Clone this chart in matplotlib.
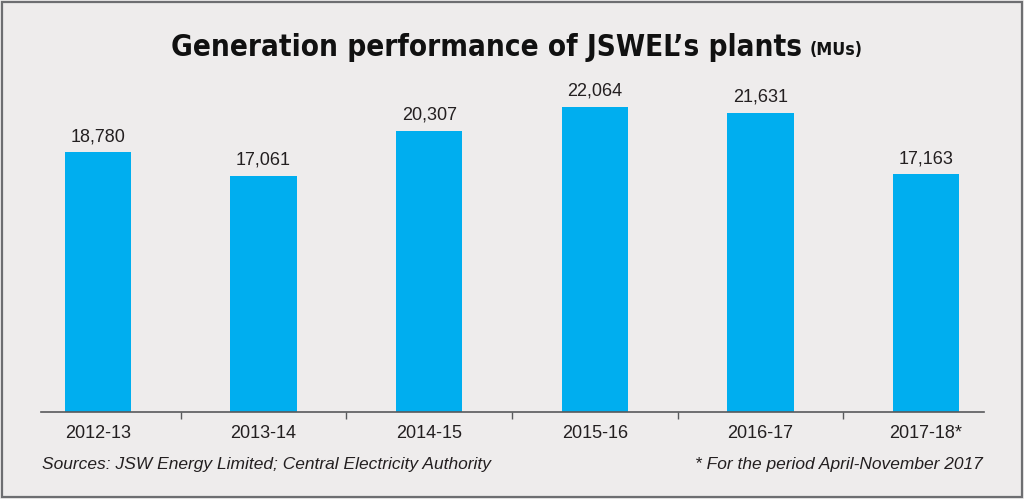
import matplotlib
matplotlib.use("Agg")
import matplotlib.pyplot as plt
from matplotlib.patches import FancyBboxPatch
from matplotlib import font_manager as fm

categories = ["2012-13", "2013-14", "2014-15", "2015-16", "2016-17", "2017-18*"]
values = [18780, 17061, 20307, 22064, 21631, 17163]
value_labels = ["18,780", "17,061", "20,307", "22,064", "21,631", "17,163"]

title = "Generation performance of JSWEL\u2019s plants"
title_unit = "(MUs)"
source = "Sources: JSW Energy Limited; Central Electricity Authority"
footnote = "* For the period April-November 2017"

bg = "#eeecec"
bar_color = "#00aeef"
text_color = "#231f20"

plt.rcParams['font.family'] = ['Liberation Sans', 'DejaVu Sans']

title_kw = dict(family=['Liberation Sans', 'DejaVu Sans'], fontweight="bold")
try:
    fp = fm.FontProperties(family='DejaVu Sans', weight='bold', stretch='condensed')
    path = fm.findfont(fp, fallback_to_default=False)
    if 'Condensed' in path:
        title_kw = dict(family=['DejaVu Sans'], fontweight="bold", fontstretch="condensed")
except Exception:
    pass

fig = plt.figure(figsize=(10.24, 4.99), dpi=100)
fig.patch.set_facecolor(bg)

border = FancyBboxPatch((2 / 1024, 2 / 499), 1020 / 1024, 495 / 499,
                        boxstyle="square,pad=0", transform=fig.transFigure,
                        fill=False, edgecolor="#6d6e71", linewidth=1.6)
fig.patches.append(border)

ax = fig.add_axes([41 / 1024, (499 - 412) / 499, (984 - 41) / 1024, 330 / 499])
ax.set_facecolor(bg)
x = list(range(len(categories)))
ax.bar(x, values, width=0.4, color=bar_color, zorder=2)
ax.set_xlim(-0.344, 5.35)
ax.set_ylim(0, 330 / 0.013845)

for xi, v, lab in zip(x, values, value_labels):
    ax.text(xi, v + 500, lab, ha="center", va="bottom", fontsize=13, color=text_color)

for s in ["top", "left", "right"]:
    ax.spines[s].set_visible(False)
ax.spines["bottom"].set_color("#58595b")
ax.spines["bottom"].set_linewidth(1.2)
ax.set_yticks([])
ax.set_xticks(x)
ax.set_xticklabels(categories, fontsize=13, color=text_color)
ax.tick_params(axis="x", length=0, pad=9)
ax.set_xticks([i + 0.5 for i in range(len(categories) - 1)], minor=True)
ax.tick_params(axis="x", which="minor", length=5, direction="out", color="#58595b", width=1)

renderer = fig.canvas.get_renderer()
t = fig.text(0, 1 - 48 / 499, title, ha="left", va="center", fontsize=30,
             color="#111111", **title_kw)
u = fig.text(0, 1 - 50 / 499, title_unit, ha="left", va="center",
             fontsize=30 * 0.6, color="#111111", **title_kw)
gap = 8
w_t = t.get_window_extent(renderer).width
w_u = u.get_window_extent(renderer).width
scale = (690 - gap) / (w_t + w_u)
t.set_fontsize(30 * scale)
u.set_fontsize(30 * 0.6 * scale)
w_t = t.get_window_extent(renderer).width
w_u = u.get_window_extent(renderer).width
total = w_t + gap + w_u
left = 517 - total / 2
t.set_x(left / 1024)
u.set_x((left + w_t + gap) / 1024)

fig.text(42 / 1024, 1 - 465 / 499, source, ha="left", va="center",
         fontsize=12.5, style="italic", color=text_color)
fig.text(983 / 1024, 1 - 465 / 499, footnote, ha="right", va="center",
         fontsize=12.5, style="italic", color=text_color)

fig.savefig("out.png", dpi=100, facecolor=bg)
